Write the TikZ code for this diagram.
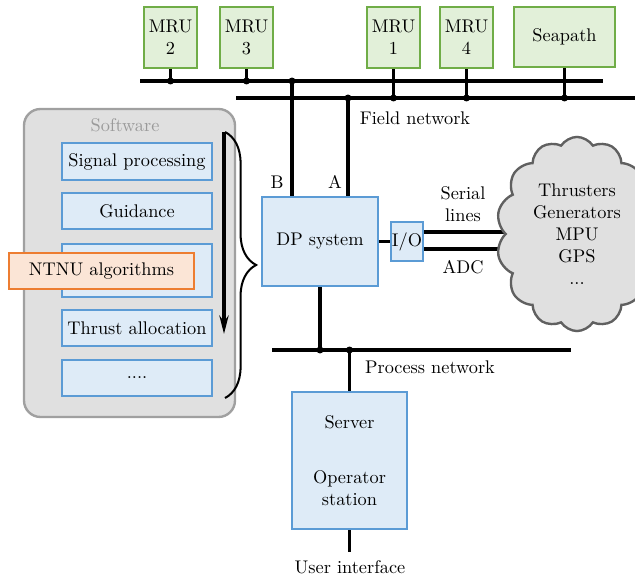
\documentclass[tikz,border=0pt]{standalone}
\usetikzlibrary{shapes.symbols,decorations.pathreplacing,arrows.meta,backgrounds,calc}
\definecolor{bluefill}{HTML}{DEEBF7}
\definecolor{blueline}{HTML}{5B9BD5}
\definecolor{greenfill}{HTML}{E2F0D9}
\definecolor{greenline}{HTML}{70AD47}
\definecolor{orangefill}{HTML}{FBE5D6}
\definecolor{orangeline}{HTML}{ED7D31}
\definecolor{swfill}{HTML}{E0E0E0}
\definecolor{swline}{HTML}{A0A0A0}
\definecolor{swtext}{HTML}{9A9A9A}
\definecolor{cloudline}{HTML}{606060}
% box from corner (x1,y1) to corner (x2,y2): style, name, x1, y1, x2, y2, text
\newcommand\pbox[7]{\node[#1, minimum width={(#5-#3-2)*0.546pt}, minimum height={(#6-#4-2)*0.546pt}] (#2) at ({(#3+#5)/2},{(#4+#6)/2}) {#7};}
\begin{document}
\begin{tikzpicture}[x=0.546pt, y=-0.546pt,
  blk/.style={draw=blueline, fill=bluefill, line width=1.5pt, inner sep=0pt, align=center},
  grn/.style={draw=greenline, fill=greenfill, line width=1.5pt, inner sep=0pt, align=center},
  org/.style={draw=orangeline, fill=orangefill, line width=1.5pt, inner sep=0pt},
  swbox/.style={draw=swline, fill=swfill, line width=1.3pt, rounded corners=9pt, inner sep=0pt},
  bus/.style={line width=1.8pt},
  dot/.style={circle, fill, inner sep=0pt, minimum size=3.8pt},
  lbl/.style={inner sep=1pt}]
\useasboundingbox (0,0) rectangle (635,578);
\clip (0,0) rectangle (635,578);

% sensors on the field network
\pbox{grn}{mru2}{143}{6}{198}{69}{MRU\\2}
\pbox{grn}{mru3}{219}{6}{274}{69}{MRU\\3}
\pbox{grn}{mru1}{366}{6}{421}{69}{MRU\\1}
\pbox{grn}{mru4}{439}{6}{494}{69}{MRU\\4}
\pbox{grn}{seapath}{513}{6}{616}{68}{Seapath}

% field network buses
\coordinate (b1w) at (140,81);
\coordinate (b1e) at (603,81);
\coordinate (b2w) at (236,98);
\coordinate (b2e) at (640,98);
\draw[bus] (b1w) -- (b1e);
\draw[bus] (b2w) -- (b2e);
\draw[bus] (mru2.south) -- (mru2.south |- b1w) node[dot] (d1) {};
\draw[bus] (mru3.south) -- (mru3.south |- b1w) node[dot] (d2) {};
\draw[bus] (mru1.south) -- (mru1.south |- b2w) node[dot] (d3) {};
\draw[bus] (mru4.south) -- (mru4.south |- b2w) node[dot] (d4) {};
\draw[bus] (seapath.south) -- (seapath.south |- b2w) node[dot] (d5) {};
\node[lbl] (fieldnet) at (415,118) {Field network};

% software stack
\pbox{swbox}{sw}{23}{108}{236}{418}{}
\node[text=swtext, lbl] (swlabel) at (125,125) {Software};
\pbox{blk}{sigproc}{61}{142}{213}{181}{Signal processing}
\pbox{blk}{guid}{61}{192}{213}{230}{Guidance}
\pbox{blk}{ctrl}{61}{243}{213}{298}{}
\pbox{blk}{thrust}{61}{309}{213}{347}{Thrust allocation}
\pbox{blk}{more}{61}{359}{213}{397}{....}
\pbox{org}{ntnu}{8}{252}{195}{290}{NTNU algorithms}

\coordinate (flowtop) at (224,132);
\coordinate (flowbot) at (224,334);
\draw[bus, -{Stealth[length=10pt,width=5pt]}] (flowtop) -- (flowbot);
\coordinate (bracetop) at (225,132);
\coordinate (bracebot) at (225,398);
\draw[decorate, decoration={brace, amplitude=17pt}, line width=1.1pt] (bracetop) -- (bracebot);

% DP system and I/O
\pbox{blk}{dp}{261}{196}{379}{287}{DP system}
\pbox{blk}{io}{390}{221}{424}{262}{I/O}
\draw[bus] (dp.east) -- (io.west);

\coordinate (bx) at (292,81);
\coordinate (ax) at (348,98);
\node[dot] (db) at (bx) {};
\node[dot] (da) at (ax) {};
\draw[bus] (bx) -- (bx |- dp.north);
\draw[bus] (ax) -- (ax |- dp.north);
\node[lbl] (blabel) at (277,182) {B};
\node[lbl] (alabel) at (335,182) {A};

% equipment cloud
\node[cloud, draw=cloudline, fill=swfill, line width=1.3pt, cloud puffs=14, cloud puff arc=115,
  cloud ignores aspect, minimum width=88pt, minimum height=106pt, align=center, inner sep=0pt]
  (equip) at (577,234) {Thrusters\\Generators\\MPU\\GPS\\...};
\coordinate (sl) at ($(io.east)+(0,-9.5)$);
\coordinate (al) at ($(io.east)+(0,7.5)$);
\begin{scope}[on background layer]
  \draw[bus] (sl) -- (sl -| equip.center);
  \draw[bus] (al) -- (al -| equip.center);
\end{scope}
\node[lbl, align=center] (serial) at (463,204) {Serial\\lines};
\node[lbl] (adc) at (463,267) {ADC};

% process network and operator station
\coordinate (pw) at (272,350);
\coordinate (pe) at (571,350);
\draw[bus] (pw) -- (pe);
\pbox{blk}{srv}{291}{391}{408}{530}{Server\\[18pt]Operator\\station}
\draw[bus] (dp.south) -- (dp.south |- pw) node[dot] (d6) {};
\draw[bus] (srv.north) -- (srv.north |- pw) node[dot] (d7) {};
\node[lbl] (procnet) at (430,367) {Process network};
\node[lbl] (ui) at (350,567) {User interface};
\coordinate (uiend) at (350,552);
\draw[bus] (srv.south) -- (srv.south |- uiend);
\end{tikzpicture}
\end{document}
